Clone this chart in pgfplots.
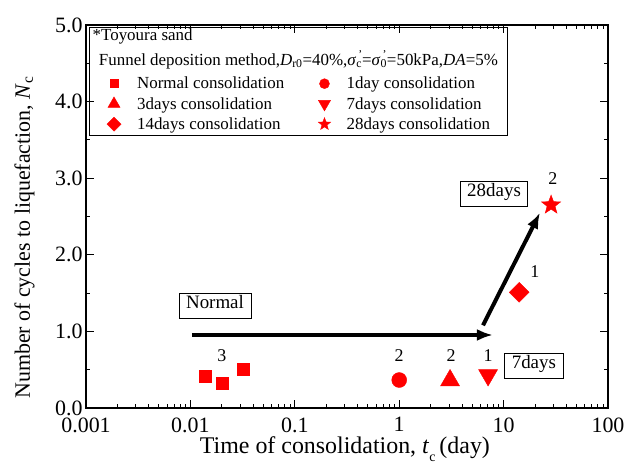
\documentclass[border=0pt]{standalone}
\usepackage{fontspec}
\setmainfont{Liberation Serif}
\usepackage{pgfplots}
\pgfplotsset{compat=1.18}
\usetikzlibrary{arrows.meta,plotmarks}

\pgfdeclareplotmark{fstar}{%
  \pgfpathmoveto{\pgfpointpolar{90}{\pgfplotmarksize}}%
  \pgfpathlineto{\pgfpointpolar{126}{0.42\pgfplotmarksize}}%
  \pgfpathlineto{\pgfpointpolar{162}{\pgfplotmarksize}}%
  \pgfpathlineto{\pgfpointpolar{198}{0.42\pgfplotmarksize}}%
  \pgfpathlineto{\pgfpointpolar{234}{\pgfplotmarksize}}%
  \pgfpathlineto{\pgfpointpolar{270}{0.42\pgfplotmarksize}}%
  \pgfpathlineto{\pgfpointpolar{306}{\pgfplotmarksize}}%
  \pgfpathlineto{\pgfpointpolar{342}{0.42\pgfplotmarksize}}%
  \pgfpathlineto{\pgfpointpolar{18}{\pgfplotmarksize}}%
  \pgfpathlineto{\pgfpointpolar{54}{0.42\pgfplotmarksize}}%
  \pgfpathclose
  \pgfusepathqfillstroke}

\begin{document}
\begin{tikzpicture}
\begin{axis}[
  scale only axis, width=522bp, height=383bp,
  xmode=log, xmin=0.001, xmax=100, ymin=0, ymax=5,
  xtick={0.001,0.01,0.1,1,10,100}, xticklabels={0.001,0.01,0.1,1,10,100},
  ytick={0,1,2,3,4,5}, yticklabels={0.0,1.0,2.0,3.0,4.0,5.0},
  minor ytick={0.5,1.5,2.5,3.5,4.5},
  /pgf/number format/assume math mode=true,
  tick align=inside, major tick length=8bp, minor tick length=4bp,
  axis line style={line width=1.2bp},
  tick style={black, line width=1bp},
  tick label style={font=\fontsize{22}{26}\selectfont},
  xlabel style={font=\fontsize{24}{28}\selectfont},
  ylabel style={font=\fontsize{22}{26}\selectfont},
  xlabel={Time of consolidation, \textit{t}\raisebox{-0.7ex}{\fontsize{14}{14}\selectfont c}\,(day)},
  ylabel={Number of cycles to liquefaction, \textit{N}\textsubscript{c}},
  xlabel style={at={(axis description cs:0.496,-0.108)}, anchor=center},
  ylabel style={at={(axis description cs:-0.118,0.445)}, anchor=center},
  xticklabel style={yshift=-6bp},
  clip=false,
  legend columns=2,
  legend cell align=left,
  legend style={draw=none, fill=none, at={(rel axis cs:0.034,0.875)}, anchor=north west,
    font=\fontsize{17}{20}\selectfont,
    /tikz/every odd column/.append style={column sep=14bp},
    /tikz/every even column/.append style={column sep=32bp},
    row sep=3bp},
]
% data
\addplot[only marks, mark=square*, mark size=6bp, red, forget plot] coordinates {(0.0138,0.42)(0.020,0.33)(0.032,0.51)};
\addplot[only marks, mark=*, mark size=7.5bp, red, forget plot] coordinates {(1.0,0.365)};
\addplot[only marks, mark=triangle*, mark size=11bp, red, forget plot] coordinates {(3.07,0.36)};
\addplot[only marks, mark=triangle*, mark options={rotate=180}, mark size=11bp, red, forget plot] coordinates {(7.1,0.43)};
\addplot[only marks, mark=square*, mark options={rotate=45}, mark size=7bp, red, forget plot] coordinates {(14.1,1.51)};
\addplot[only marks, mark=fstar, mark size=10bp, red, forget plot] coordinates {(28.5,2.65)};

% legend
\addlegendimage{only marks, mark=square*, mark size=4bp, red}
\addlegendentry{Normal consolidation}
\addlegendimage{only marks, mark=*, mark size=5bp, red}
\addlegendentry{1day consolidation}
\addlegendimage{only marks, mark=triangle*, mark size=7bp, red}
\addlegendentry{3days consolidation}
\addlegendimage{only marks, mark=triangle*, mark options={rotate=180}, mark size=7bp, red}
\addlegendentry{7days consolidation}
\addlegendimage{only marks, mark=square*, mark options={rotate=45}, mark size=5bp, red}
\addlegendentry{14days consolidation}
\addlegendimage{only marks, mark=fstar, mark size=6.5bp, red}
\addlegendentry{28days consolidation}

% legend frame and header
\draw[line width=0.8bp] (rel axis cs:0.006,0.713) rectangle (rel axis cs:0.8065,0.995);
\node[anchor=west, font=\fontsize{17}{20}\selectfont] at (rel axis cs:0.006,0.969) {*Toyoura sand};
\node[anchor=west, font=\fontsize{17}{20}\selectfont] at (rel axis cs:0.018,0.909)
  {Funnel deposition method,\textit{D}\textsubscript{r0}=40\%,\textit{σ}\makebox[0pt][l]{\textsuperscript{\,'}}\textsubscript{c}=\textit{σ}\makebox[0pt][l]{\textsuperscript{\,'}}\textsubscript{0}=50kPa,\textit{DA}=5\%};

% arrows
\draw[line width=4bp, -{Latex[length=16bp,width=12bp]}] (axis cs:0.01035,0.953) -- (axis cs:7.9,0.953);
\draw[line width=4bp, -{Latex[length=16bp,width=12bp]}] (axis cs:6.35,1.08) -- (axis cs:22.3,2.55);

% boxed labels
\tikzset{boxlab/.style={draw, line width=0.8bp, fill=white, inner xsep=7bp, inner ysep=8bp,
  text height=0.7em, text depth=0.22em, font=\fontsize{19}{21}\selectfont}}
\node[boxlab] at (axis cs:0.0172,1.33) {Normal};
\node[boxlab] at (axis cs:8.1,2.79) {28days};
\node[boxlab] at (axis cs:19.5,0.55) {7days};

% counts
\tikzset{cnt/.style={font=\fontsize{18}{20}\selectfont}}
\node[cnt] at (axis cs:0.020,0.68) {3};
\node[cnt] at (axis cs:1.0,0.69) {2};
\node[cnt] at (axis cs:3.15,0.69) {2};
\node[cnt] at (axis cs:7.1,0.69) {1};
\node[cnt] at (axis cs:19.9,1.78) {1};
\node[cnt] at (axis cs:29.7,2.99) {2};

% bounding box
\path (rel axis cs:-0.1648,-0.154) rectangle (rel axis cs:1.0613,1.0653);
\end{axis}
\end{tikzpicture}
\end{document}
